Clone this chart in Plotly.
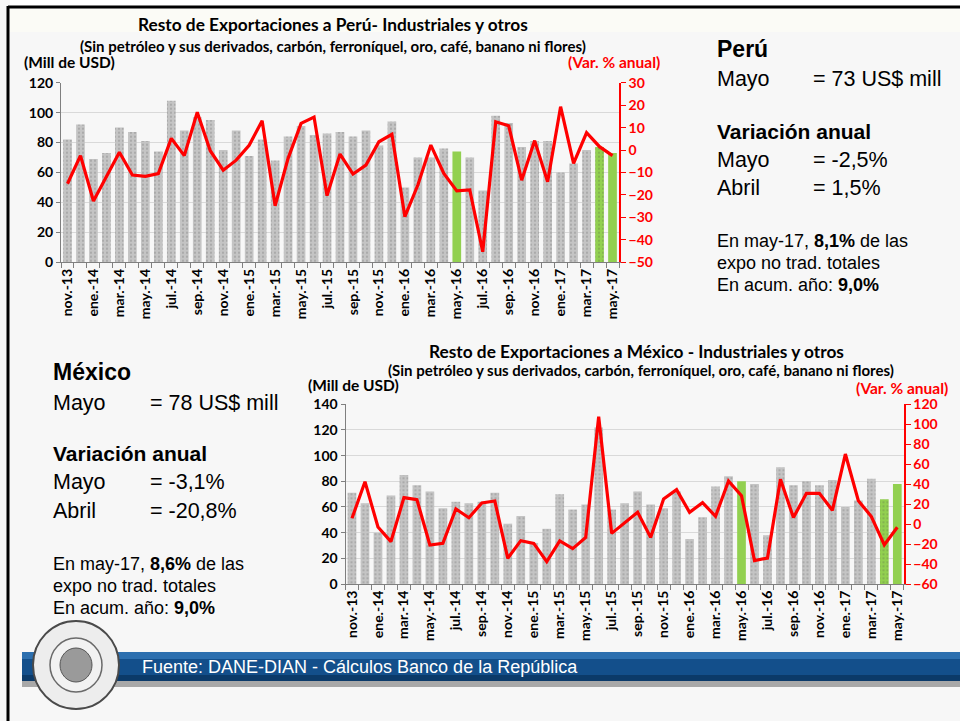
import plotly.graph_objects as go

W, H = 960, 721

months = ["nov.-13", "dic.-13",
          "ene.-14", "feb.-14", "mar.-14", "abr.-14", "may.-14", "jun.-14", "jul.-14", "ago.-14", "sep.-14", "oct.-14", "nov.-14", "dic.-14",
          "ene.-15", "feb.-15", "mar.-15", "abr.-15", "may.-15", "jun.-15", "jul.-15", "ago.-15", "sep.-15", "oct.-15", "nov.-15", "dic.-15",
          "ene.-16", "feb.-16", "mar.-16", "abr.-16", "may.-16", "jun.-16", "jul.-16", "ago.-16", "sep.-16", "oct.-16", "nov.-16", "dic.-16",
          "ene.-17", "feb.-17", "mar.-17", "abr.-17", "may.-17"]
tick_labels = [m if i % 2 == 0 else "" for i, m in enumerate(months)]

peru_values = [82, 92, 69, 73, 90, 87, 81, 74, 108, 88, 97, 95, 75, 88, 71,
               82, 68, 84, 91, 85, 86, 87, 84, 88, 78, 94, 50, 70, 70, 76,
               74, 70, 48, 98, 93, 77, 81, 81, 60, 66, 75, 77, 73]
peru_var = [-15, -2.5, -22.7, -12, -1, -11.1, -11.7, -10.5, 5.2, -2.5, 16.8, -0.3, -9, -4.5, 2.1,
            13.1, -24.8, -3.7, 11.9, 14.7, -20.3, -1.8, -10.7, -6.7, 3.7, 7, -29.7, -15.6, 2.2, -10.4,
            -18.2, -17.8, -45.3, 12.6, 10.8, -13.4, 4.2, -14.1, 19.3, -5.9, 7.7, 1.5, -2.5]

mex_values = [71, 63, 40, 69, 85, 77, 72, 59, 64, 63, 64, 71, 47, 53, 32,
              43, 70, 58, 62, 122, 58, 63, 72, 62, 59, 72, 35, 52, 76, 84,
              80, 78, 38, 91, 77, 80, 77, 81, 60, 65, 82, 66, 78]
mex_var = [5.8, 42.5, -2.9, -17.6, 26.5, 24.5, -20.9, -19.3, 15.1, 6.4, 21.1, 23.1, -34.3, -16.6, -19.3,
           -37.6, -16.9, -24.6, -13.3, 107.6, -9.3, 0.8, 11.8, -13.3, 25.1, 34.5, 11.8, 21.5, 7.8, 43.2,
           28.5, -36.6, -34, 44.9, 6.5, 30.8, 30.8, 13.8, 70.2, 23.5, 7.5, -20.8, -3.1]

highlight = {"may.-16", "abr.-17", "may.-17"}

GRAY = "#C4C4C4"
GREEN = "#92D050"
RED = "#FF0000"
FONT_C = "Lato"
FONT_A = "Liberation Sans"


def bar_colors():
    return [GREEN if m in highlight else GRAY for m in months]


def bar_patterns():
    return ["" if m in ("may.-16", "may.-17") else "." for m in months]


def px(x):
    return x / W


def py(y):
    return 1 - y / H


fig = go.Figure()

for xa, ya, ya2, vals, var in [("x", "y", "y2", peru_values, peru_var),
                                ("x2", "y3", "y4", mex_values, mex_var)]:
    fig.add_trace(go.Bar(
        x=months, y=vals, xaxis=xa, yaxis=ya,
        marker=dict(color=bar_colors(), line=dict(width=0),
                    pattern=dict(shape=bar_patterns(), fgcolor="#FFFFFF",
                                 size=4, solidity=0.12, fillmode="overlay")),
        showlegend=False, hoverinfo="skip"))
    fig.add_trace(go.Scatter(
        x=months, y=var, xaxis=xa, yaxis=ya2, mode="lines",
        line=dict(color=RED, width=3.2), showlegend=False, hoverinfo="skip"))

xcommon = dict(type="category", categoryorder="array", categoryarray=months,
               tickmode="array", tickvals=months, ticktext=tick_labels,
               tickson="boundaries", ticks="outside", ticklen=5, tickcolor="#7F7F7F",
               showline=True, linecolor="#7F7F7F", linewidth=1, showgrid=False,
               tickangle=-90, tickfont=dict(family=FONT_C, size=14, color="#000000", weight="bold"),
               range=[-0.5, 42.5], automargin=False)
ycommon = dict(showline=True, linecolor="#7F7F7F", linewidth=1, ticks="outside",
               ticklen=4, tickcolor="#7F7F7F", showgrid=True, gridcolor="#D9D9D9",
               gridwidth=1, zeroline=False, automargin=False,
               tickfont=dict(family=FONT_C, size=14, color="#000000", weight="bold"))
yright = dict(showline=True, linecolor=RED, linewidth=1.5, ticks="outside",
              ticklen=5, tickcolor=RED, showgrid=False, zeroline=False, automargin=False,
              side="right", tickfont=dict(family=FONT_C, size=14, color=RED, weight="bold"))

fig.update_layout(
    template="none",
    width=W, height=H, margin=dict(l=0, r=0, t=0, b=0, pad=0, autoexpand=False), autosize=False,
    paper_bgcolor="#F7F7F7", plot_bgcolor="rgba(0,0,0,0)",
    bargap=0.33, showlegend=False,
    xaxis=dict(xcommon, domain=[px(61), px(619)], anchor="y"),
    yaxis=dict(ycommon, domain=[py(262.3), py(82.7)], range=[0, 120], dtick=20, anchor="x"),
    yaxis2=dict(yright, overlaying="y", anchor="x", range=[-50, 30], dtick=10),
    xaxis2=dict(xcommon, domain=[px(345.5), px(903.8)], anchor="y3"),
    yaxis3=dict(ycommon, domain=[py(584), py(404.3)], range=[0, 140], dtick=20, anchor="x2"),
    yaxis4=dict(yright, overlaying="y3", anchor="x2", range=[-60, 120], dtick=20),
)

shapes = []
# slide frame
shapes.append(dict(type="rect", xref="paper", yref="paper", x0=px(10), x1=px(962),
                   y0=py(6), y1=py(0), fillcolor="#FFFFFF", line=dict(width=0), layer="below"))
shapes.append(dict(type="rect", xref="paper", yref="paper", x0=px(10), x1=px(960),
                   y0=py(32), y1=py(9), fillcolor="#FBFBF6", line=dict(width=0), layer="below"))
shapes.append(dict(type="line", xref="paper", yref="paper", x0=px(8), x1=px(960),
                   y0=py(7), y1=py(7), line=dict(color="#000000", width=3)))
shapes.append(dict(type="line", xref="paper", yref="paper", x0=px(8), x1=px(8),
                   y0=py(6), y1=py(721), line=dict(color="#000000", width=3)))
# footer shadow + band
shapes.append(dict(type="rect", xref="paper", yref="paper", x0=px(22), x1=px(960),
                   y0=py(687), y1=py(680), fillcolor="#A8A8A8", line=dict(width=0)))
shapes.append(dict(type="rect", xref="paper", yref="paper", x0=px(22), x1=px(960),
                   y0=py(681), y1=py(652), fillcolor="#134F8B", line=dict(width=0)))
shapes.append(dict(type="rect", xref="paper", yref="paper", x0=px(22), x1=px(960),
                   y0=py(659), y1=py(652), fillcolor="#2C6FAF", line=dict(width=0)))
shapes.append(dict(type="rect", xref="paper", yref="paper", x0=px(22), x1=px(960),
                   y0=py(681), y1=py(675), fillcolor="#0B3A69", line=dict(width=0)))
# logo (coin)
shapes.append(dict(type="circle", xref="paper", yref="paper", x0=px(33), x1=px(119),
                   y0=py(709), y1=py(621), fillcolor="#EDEDED",
                   line=dict(color="#4A4A4A", width=2)))
shapes.append(dict(type="circle", xref="paper", yref="paper", x0=px(50), x1=px(102),
                   y0=py(692), y1=py(638), fillcolor="#F2F2F2",
                   line=dict(color="#6A6A6A", width=1.5)))
shapes.append(dict(type="circle", xref="paper", yref="paper", x0=px(60), x1=px(92),
                   y0=py(682), y1=py(648), fillcolor="#9A9A9A",
                   line=dict(color="#555555", width=1)))
fig.update_layout(shapes=shapes)

ann = []


def text(x, y, s, size, color="#000000", family=FONT_A, xanchor="left", bold=False):
    if bold:
        s = "<b>" + s + "</b>"
    ann.append(dict(x=px(x), y=py(y), xref="paper", yref="paper", text=s, showarrow=False,
                    xanchor=xanchor, yanchor="middle",
                    font=dict(family=family, size=size, color=color)))


# Peru chart texts
text(333, 25, "Resto de Exportaciones a Perú- Industriales y otros", 17.3, family=FONT_C, xanchor="center", bold=True)
text(333, 46, "(Sin petróleo y sus derivados, carbón, ferroníquel, oro, café, banano ni flores)", 15, family=FONT_C, xanchor="center", bold=True)
text(22, 62, "(Mill de USD)", 15.5, family=FONT_C, bold=True)
text(662, 62, "(Var. % anual)", 15.5, color=RED, family=FONT_C, xanchor="right", bold=True)

# Mexico chart texts
text(636, 351, "Resto de Exportaciones a México - Industriales y otros", 17.3, family=FONT_C, xanchor="center", bold=True)
text(641, 370, "(Sin petróleo y sus derivados, carbón, ferroníquel, oro, café, banano ni flores)", 15, family=FONT_C, xanchor="center", bold=True)
text(306, 385, "(Mill de USD)", 15.5, family=FONT_C, bold=True)
text(950, 388, "(Var. % anual)", 15.5, color=RED, family=FONT_C, xanchor="right", bold=True)

# Peru panel
text(715, 49, "Perú", 23, bold=True)
text(715, 79, "Mayo", 21.5)
text(811, 79, "= 73 US$ mill", 21.5)
text(715, 131, "Variación anual", 21, bold=True)
text(715, 160, "Mayo", 21.5)
text(811, 160, "= -2,5%", 21.5)
text(715, 188, "Abril", 21.5)
text(811, 188, "= 1,5%", 21.5)
text(715, 241, "En may-17, <b>8,1%</b> de las", 18)
text(715, 263, "expo no trad. totales", 18)
text(715, 285, "En acum. año: <b>9,0%</b>", 18)

# Mexico panel
text(51, 372, "México", 23, bold=True)
text(51, 403, "Mayo", 21.5)
text(148, 403, "= 78 US$ mill", 21.5)
text(51, 453, "Variación anual", 21, bold=True)
text(51, 482, "Mayo", 21.5)
text(148, 482, "= -3,1%", 21.5)
text(51, 511, "Abril", 21.5)
text(148, 511, "= -20,8%", 21.5)
text(51, 564, "En may-17, <b>8,6%</b> de las", 18)
text(51, 586, "expo no trad. totales", 18)
text(51, 608, "En acum. año: <b>9,0%</b>", 18)

# footer
text(140, 667, "Fuente: DANE-DIAN - Cálculos Banco de la República", 18, color="#FFFFFF")

fig.update_layout(annotations=ann)

post = ("document.documentElement.style.margin='0';document.documentElement.style.overflow='hidden';"
        "document.body.style.margin='0';document.body.style.padding='0';document.body.style.overflow='hidden';")

fig.write_html("out.html", post_script=post, config={"displayModeBar": False})
